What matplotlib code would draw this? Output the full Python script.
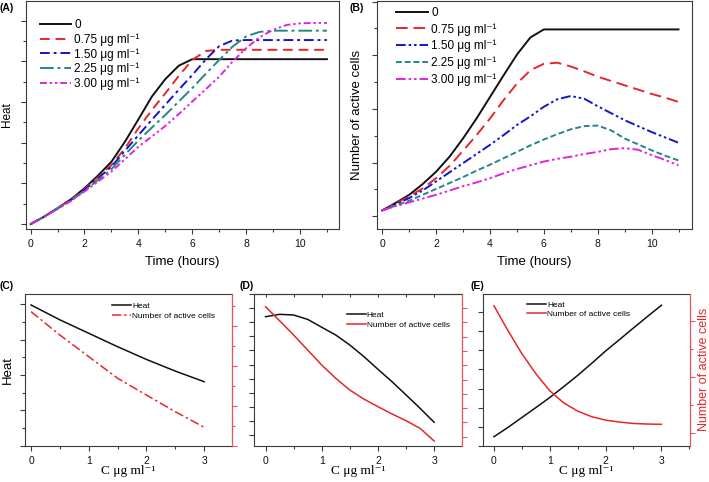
import matplotlib
matplotlib.use('Agg')
import matplotlib.pyplot as plt
from matplotlib.ticker import MultipleLocator, NullFormatter

plt.rcParams['font.family'] = ['Liberation Sans', 'DejaVu Sans']

# ---- top panels: time course ----
time_h = [0, 0.5, 1, 1.5, 2, 2.5, 3, 3.5, 4, 4.5, 5, 5.5, 6, 6.5, 7, 7.5, 8, 8.5, 9, 9.5, 10, 10.5, 11]
doses = ['0', '0.75 μg ml⁻¹', '1.50 μg ml⁻¹', '2.25 μg ml⁻¹', '3.00 μg ml⁻¹']

heat_0 = [0, 0.18, 0.39, 0.61, 0.88, 1.19, 1.53, 2.02, 2.57, 3.13, 3.56, 3.89, 4.05, 4.05, 4.05, 4.05, 4.05, 4.05, 4.05, 4.05, 4.05, 4.05, 4.05]
heat_075 = [0, 0.18, 0.39, 0.60, 0.86, 1.15, 1.45, 1.86, 2.35, 2.80, 3.21, 3.64, 4.03, 4.25, 4.28, 4.28, 4.28, 4.28, 4.28, 4.28, 4.28, 4.28, 4.28]
heat_150 = [0, 0.18, 0.38, 0.59, 0.84, 1.12, 1.41, 1.80, 2.18, 2.56, 2.93, 3.30, 3.66, 4.04, 4.37, 4.51, 4.52, 4.52, 4.52, 4.52, 4.52, 4.52, 4.52]
heat_225 = [0, 0.18, 0.38, 0.58, 0.82, 1.08, 1.35, 1.70, 2.05, 2.37, 2.68, 3.01, 3.34, 3.69, 4.03, 4.36, 4.61, 4.72, 4.75, 4.75, 4.75, 4.75, 4.75]
heat_300 = [0, 0.18, 0.37, 0.57, 0.80, 1.04, 1.29, 1.59, 1.90, 2.15, 2.41, 2.70, 3.01, 3.31, 3.62, 3.99, 4.32, 4.59, 4.77, 4.89, 4.93, 4.94, 4.94]

cells_0 = [0.11, 0.25, 0.40, 0.60, 0.83, 1.11, 1.45, 1.82, 2.22, 2.62, 3.01, 3.33, 3.48, 3.48, 3.48, 3.48, 3.48, 3.48, 3.48, 3.48, 3.48, 3.48, 3.48]
cells_075 = [0.11, 0.24, 0.37, 0.52, 0.71, 0.94, 1.22, 1.51, 1.82, 2.16, 2.47, 2.72, 2.84, 2.86, 2.79, 2.70, 2.60, 2.52, 2.44, 2.36, 2.28, 2.21, 2.13]
cells_150 = [0.11, 0.22, 0.34, 0.48, 0.65, 0.82, 0.99, 1.16, 1.33, 1.51, 1.70, 1.86, 2.04, 2.18, 2.24, 2.19, 2.05, 1.92, 1.79, 1.68, 1.57, 1.47, 1.37]
cells_225 = [0.11, 0.20, 0.29, 0.40, 0.51, 0.62, 0.73, 0.85, 0.96, 1.08, 1.20, 1.32, 1.43, 1.53, 1.62, 1.68, 1.69, 1.60, 1.45, 1.34, 1.23, 1.13, 1.04]
cells_300 = [0.11, 0.19, 0.26, 0.33, 0.40, 0.48, 0.56, 0.63, 0.71, 0.80, 0.88, 0.95, 1.02, 1.07, 1.11, 1.16, 1.20, 1.25, 1.27, 1.24, 1.14, 1.05, 0.95]

# ---- bottom panels: vs concentration ----
conc_c = [0, 0.5, 1, 1.5, 2, 2.5, 3]
c_heat = [3.98, 3.56, 3.18, 2.80, 2.44, 2.11, 1.81]
c_cells = [6.70, 5.53, 4.45, 3.37, 2.53, 1.70, 0.92]

conc_de = [0, 0.25, 0.5, 0.75, 1, 1.25, 1.5, 1.75, 2, 2.25, 2.5, 2.75, 3]
d_heat = [8.39, 8.56, 8.51, 8.20, 7.64, 7.09, 6.38, 5.56, 4.66, 3.78, 2.84, 1.89, 0.90]
d_cells = [9.09, 8.11, 7.11, 6.06, 5.01, 4.08, 3.26, 2.63, 2.10, 1.59, 1.12, 0.58, -0.30]
e_heat = [0.47, 0.96, 1.48, 2.00, 2.53, 3.10, 3.69, 4.32, 4.97, 5.57, 6.18, 6.78, 7.37]
e_cells = [4.53, 3.65, 2.83, 2.12, 1.51, 1.08, 0.79, 0.59, 0.47, 0.40, 0.35, 0.33, 0.32]

BLACK = '#111111'
RED = '#e8262a'
BLUE = '#1414c8'
TEAL = '#23878a'
MAG = '#e024e0'
SPINE = '#3a3a3a'
RSPINE = '#e8555a'

fig = plt.figure(figsize=(7.09, 4.82), dpi=100)


def style(ax, color=SPINE):
    for s in ax.spines.values():
        s.set_color(color)
        s.set_linewidth(0.8)
    ax.tick_params(which='both', direction='out', colors=color, labelcolor='#111111', labelsize=7.5, width=0.8)
    ax.tick_params(which='major', length=3.6)
    ax.tick_params(which='minor', length=2.0)


# (A) Heat
axA = fig.add_axes([0.0367, 0.525, 0.4415, 0.473])
styles_a = ['-', (0, (5, 3)), (0, (5, 2, 1.5, 2)), (0, (7, 2, 1.5, 2)), (0, (3.5, 1.5, 1.2, 1.5, 1.2, 1.5))]
colors = [BLACK, RED, BLUE, TEAL, MAG]
for ys, ls, c, lab in zip([heat_0, heat_075, heat_150, heat_225, heat_300], styles_a, colors, doses):
    axA.plot(time_h, ys, linestyle=ls, color=c, lw=1.4, label=lab)
axA.set_xlim(-0.17, 11.45)
axA.set_ylim(-0.12, 5.48)
style(axA)
axA.xaxis.set_major_locator(MultipleLocator(2))
axA.xaxis.set_minor_locator(MultipleLocator(1))
axA.yaxis.set_major_locator(MultipleLocator(1))
axA.yaxis.set_minor_locator(MultipleLocator(0.5))
axA.yaxis.set_major_formatter(NullFormatter())
axA.set_xlabel('Time (hours)', fontsize=9.5, labelpad=5)
axA.set_ylabel('Heat', fontsize=8.5)
axA.yaxis.set_label_coords(-0.042, 0.5)
axA.legend(loc='upper left', bbox_to_anchor=(0.03, 0.94), frameon=False, fontsize=8.5,
           handlelength=2.6, handletextpad=0.3, labelspacing=0.18, borderaxespad=0)
fig.text(0.0, 0.993, '(A)', fontsize=7.5, fontweight='bold', va='top')

# (B) Number of active cells
axB = fig.add_axes([0.532, 0.525, 0.4436, 0.473])
styles_b = ['-', (0, (6, 3)), (0, (5, 1.5, 1.3, 1.5, 1.3, 1.5)), (0, (3, 1.5)), (0, (5, 1.5, 1.3, 1.5, 1.3, 1.5))]
for ys, ls, c, lab in zip([cells_0, cells_075, cells_150, cells_225, cells_300], styles_b, colors, doses):
    axB.plot(time_h, ys, linestyle=ls, color=c, lw=1.4, label=lab)
axB.set_xlim(-0.186, 11.49)
axB.set_ylim(-0.235, 4.01)
style(axB)
axB.xaxis.set_major_locator(MultipleLocator(2))
axB.xaxis.set_minor_locator(MultipleLocator(1))
axB.yaxis.set_major_locator(MultipleLocator(1))
axB.yaxis.set_minor_locator(MultipleLocator(0.5))
axB.yaxis.set_major_formatter(NullFormatter())
axB.set_xlabel('Time (hours)', fontsize=9.5, labelpad=5)
axB.set_ylabel('Number of active cells', fontsize=9.5)
axB.yaxis.set_label_coords(-0.045, 0.5)
axB.legend(loc='upper left', bbox_to_anchor=(0.045, 0.995), frameon=False, fontsize=8.5,
           handlelength=2.7, handletextpad=0.3, labelspacing=0.36, borderaxespad=0)
fig.text(0.493, 0.993, '(B)', fontsize=7.5, fontweight='bold', va='top')

xlab = 'C μg ml⁻¹'


def bottom(rect, xlim):
    ax = fig.add_axes(rect)
    style(ax)
    ax.set_xlim(*xlim)
    ax.xaxis.set_major_locator(MultipleLocator(1))
    ax.xaxis.set_minor_locator(MultipleLocator(0.5))
    ax.yaxis.set_major_formatter(NullFormatter())
    ax.set_xlabel(xlab, fontsize=9.5, family=['Liberation Serif', 'DejaVu Serif'])
    ax.xaxis.set_label_coords(0.5, -0.125)
    tw = ax.twinx()
    style(tw, RSPINE)
    for s in ['left', 'top', 'bottom']:
        tw.spines[s].set_visible(False)
    tw.spines['right'].set_color(RSPINE)
    tw.yaxis.set_major_formatter(NullFormatter())
    return ax, tw


leg_kw = dict(loc='upper left', frameon=False, fontsize=6, handlelength=2.3,
              handletextpad=0.1, labelspacing=0.2, borderaxespad=0)
names = ['Heat', 'Number of active cells']

# (C)
axC, twC = bottom([0.0353, 0.0753, 0.2917, 0.3147], (-0.104, 3.48))
lc1, = axC.plot(conc_c, c_heat, color=BLACK, lw=1.1)
lc2, = twC.plot(conc_c, c_cells, color=RED, lw=1.1, linestyle=(0, (6, 2, 1.5, 2)))
axC.set_ylim(0, 4.29)
axC.yaxis.set_major_locator(MultipleLocator(1))
axC.yaxis.set_minor_locator(MultipleLocator(0.5))
twC.set_ylim(0, 7.58)
twC.yaxis.set_major_locator(MultipleLocator(2))
twC.yaxis.set_minor_locator(MultipleLocator(1))
axC.set_ylabel('Heat', fontsize=9.5)
axC.yaxis.set_label_coords(-0.055, 0.5)
axC.legend([lc1, lc2], names, bbox_to_anchor=(0.404, 0.967), **leg_kw)
fig.text(0.0, 0.418, '(C)', fontsize=7.5, fontweight='bold', va='top')

# (D)
axD, twD = bottom([0.3587, 0.0753, 0.2925, 0.3147], (-0.20, 3.49))
ld1, = axD.plot(conc_de, d_heat, color=BLACK, lw=1.1)
ld2, = twD.plot(conc_de, d_cells, color=RED, lw=1.1)
axD.set_ylim(-0.76, 10.0)
axD.yaxis.set_major_locator(MultipleLocator(1))
twD.set_ylim(-0.63, 9.98)
twD.yaxis.set_major_locator(MultipleLocator(1))
topD = axD.secondary_xaxis('top')
topD.xaxis.set_major_locator(MultipleLocator(0.5))
topD.tick_params(direction='in', length=2.5, width=0.8, colors=SPINE, labeltop=False)
topD.spines['top'].set_color(SPINE)
topD.spines['top'].set_linewidth(0.8)
axD.legend([ld1, ld2], names, bbox_to_anchor=(0.43, 0.908), **leg_kw)
fig.text(0.338, 0.418, '(D)', fontsize=7.5, fontweight='bold', va='top')

# (E)
axE, twE = bottom([0.681, 0.0753, 0.292, 0.3147], (-0.20, 3.51))
le1, = axE.plot(conc_de, e_heat, color=BLACK, lw=1.1)
le2, = twE.plot(conc_de, e_cells, color=RED, lw=1.1)
axE.set_ylim(0, 7.96)
axE.yaxis.set_major_locator(MultipleLocator(1))
twE.set_ylim(-0.44, 4.95)
twE.yaxis.set_major_locator(MultipleLocator(2))
twE.yaxis.set_minor_locator(MultipleLocator(1))
twE.set_ylabel('Number of active cells', fontsize=9, color=RED)
twE.yaxis.set_label_coords(1.04, 0.5)
axE.legend([le1, le2], names, bbox_to_anchor=(0.197, 0.977), **leg_kw)
fig.text(0.664, 0.418, '(E)', fontsize=7.5, fontweight='bold', va='top')

fig.savefig('out.png', dpi=100)
